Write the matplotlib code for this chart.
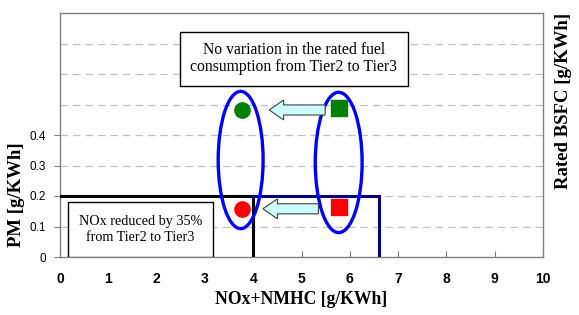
import matplotlib
matplotlib.use('Agg')
import matplotlib.pyplot as plt
from matplotlib.patches import Ellipse, Rectangle, FancyArrow

# emission data
tiers = ['Tier2', 'Tier3']
nox = [5.78, 3.77]
pm = [0.165, 0.158]
bsfc = [0.49, 0.483]   # plotted on the (unlabelled) right axis

# regulation limits
tier3_nox, tier3_pm = 4.0, 0.2
tier2_nox, tier2_pm = 6.6, 0.2

xticks = list(range(0, 11))
yticks = [0, 0.1, 0.2, 0.3, 0.4]
grid_y = [0.1, 0.2, 0.3, 0.4, 0.5, 0.6, 0.7]

fig = plt.figure(figsize=(5.79, 3.15), dpi=100)
ax = fig.add_axes([60 / 579, 58 / 315, 483 / 579, 244 / 315])
ax.set_xlim(0, 10)
ax.set_ylim(0, 0.8)

for g in grid_y:
    ax.axhline(g, color='#c0c0c0', lw=0.9, ls=(0, (6, 4)), zorder=0)

for s in ax.spines.values():
    s.set_color('#808080')
    s.set_linewidth(1.0)

ax.set_xticks(xticks)
ax.set_yticks(yticks)
ax.set_xticklabels([str(v) for v in xticks], fontfamily='Liberation Sans',
                   fontweight='bold', fontsize=10)
ax.set_yticklabels(['0', '0.1', '0.2', '0.3', '0.4'],
                   fontfamily='Liberation Sans', fontsize=8.5)
ax.tick_params(axis='x', direction='in', length=4, color='#808080', pad=11)
ax.tick_params(axis='y', direction='out', length=4, color='#808080', pad=6)

# limit lines
ax.plot([0, tier3_nox], [tier3_pm, tier3_pm], color='black', lw=2.2, zorder=3)
ax.plot([tier3_nox, tier3_nox], [0, tier3_pm], color='black', lw=2.2, zorder=3)
ax.plot([tier3_nox, tier2_nox], [tier2_pm, tier2_pm], color='#000080', lw=2.2, zorder=3)
ax.plot([tier2_nox, tier2_nox], [0, tier2_pm], color='#000080', lw=2.2, zorder=3)

# markers
ax.plot(nox[0], pm[0], 's', color='red', ms=11, zorder=5)
ax.plot(nox[1], pm[1], 'o', color='red', ms=11, zorder=5)

ax2 = ax.twinx()
ax2.set_ylim(0, 0.8)
ax2.set_yticks([])
for s in ax2.spines.values():
    s.set_visible(False)
ax2.plot(nox[0], bsfc[0], 's', color='#008000', ms=11, zorder=5)
ax2.plot(nox[1], bsfc[1], 'o', color='#008000', ms=11, zorder=5)

# ellipses
ax.add_patch(Ellipse((3.74, 0.318), 0.93, 0.45, fill=False, ec='#0000ff', lw=2.4, zorder=4))
ax.add_patch(Ellipse((5.77, 0.31), 0.97, 0.46, fill=False, ec='#0000ff', lw=2.4, zorder=4))

# arrows
ax.add_patch(FancyArrow(5.49, 0.482, -1.16, 0, width=0.033, head_width=0.065,
                        head_length=0.3, length_includes_head=True,
                        fc='#ccffff', ec='#404040', lw=0.8, zorder=4))
ax.add_patch(FancyArrow(5.35, 0.158, -1.15, 0, width=0.033, head_width=0.065,
                        head_length=0.3, length_includes_head=True,
                        fc='#ccffff', ec='#404040', lw=0.8, zorder=4))

# text boxes
ax.add_patch(Rectangle((2.48, 0.561), 4.72, 0.177, fc='white', ec='black', lw=1.0, zorder=4))
ax.text(4.84, 0.651, 'No variation in the rated fuel\nconsumption from Tier2 to Tier3',
        ha='center', va='center', fontfamily='Liberation Serif', fontsize=11.3,
        linespacing=1.15, zorder=5)
ax.add_patch(Rectangle((0.17, 0.0), 3.0, 0.18, fc='white', ec='black', lw=1.0, zorder=4))
ax.text(1.67, 0.09, 'NOx reduced by 35%\nfrom Tier2 to Tier3',
        ha='center', va='center', fontfamily='Liberation Serif', fontsize=10.2,
        linespacing=1.25, zorder=5)

# axis labels
fig.text(301 / 579, 1 - 300 / 315, 'NOx+NMHC [g/KWh]', ha='center', va='center',
         fontfamily='Liberation Serif', fontweight='bold', fontsize=12.7)
fig.text(17 / 579, 1 - 195 / 315, 'PM [g/KWh]', ha='center', va='center', rotation=90,
         fontfamily='Liberation Serif', fontweight='bold', fontsize=13.5)
fig.text(564 / 579, 1 - 101 / 315, 'Rated BSFC [g/KWh]', ha='center', va='center',
         rotation=90, fontfamily='Liberation Serif', fontweight='bold', fontsize=13.5)

fig.savefig('out.png', dpi=100)
